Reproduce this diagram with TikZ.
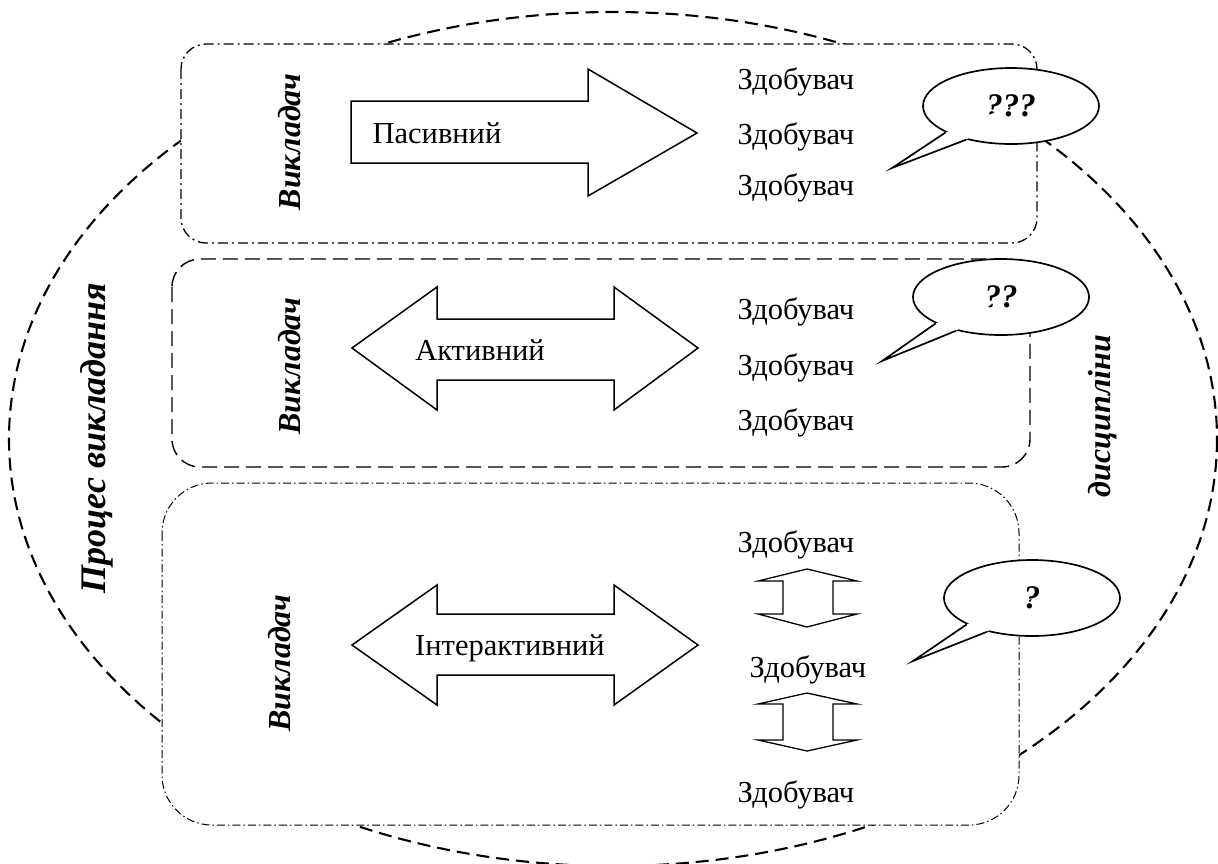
\documentclass[tikz,border=0pt]{standalone}
\usepackage{fontspec}
\setmainfont{Liberation Serif}
\usepackage{tikz}
\usetikzlibrary{shapes.geometric}

\begin{document}
\begin{tikzpicture}[x=1pt,y=1pt,yscale=-1,xscale=1,
  txt/.style={inner sep=0.75pt,font=\fontsize{30.5}{36}\selectfont},
  vtxt/.style={inner sep=0.75pt,rotate=90,font=\fontsize{32}{38}\selectfont\bfseries\itshape},
  bigoval/.style={line width=2.1,dash pattern=on 13pt off 7pt},
  dotbox/.style={draw,fill=white,line width=1.3,dash pattern=on 10pt off 4pt on 2pt off 4pt},
  dashbox/.style={draw,fill=white,line width=1.4,dash pattern=on 15pt off 7pt},
  thinbox/.style={draw,fill=white,line width=1.0,dash pattern=on 8pt off 3pt on 1.5pt off 3pt},
  blockarrow/.style={draw,fill=white,line width=1.5,line join=miter},
  speech/.style={ellipse,draw,fill=white,line width=1.7,minimum width=176,minimum height=76,inner sep=0pt,font=\fontsize{33}{38}\selectfont\bfseries\itshape}]
\useasboundingbox (0,0) rectangle (1218,863);
%Ellipse
\draw [bigoval] (613,439) ellipse [x radius=604, y radius=427];
% Text Node
\node [vtxt,font=\fontsize{36}{42}\selectfont\bfseries\itshape] (proc) at (97,438) {Процес викладання};
% Text Node
\node [vtxt] (disc) at (1103,416) {дисципліни};
%Rounded Rect
\path [dotbox,rounded corners=25] (181,44) rectangle (1037,243);
%Rounded Rect
\path [dashbox,rounded corners=28] (172,259) rectangle (1030,467);
%Rounded Rect
\path [thinbox,rounded corners=50] (162,483) rectangle (1019,825);
% Text Node
\node [vtxt] (vk1) at (290,142) {Викладач};
% Text Node
\node [vtxt] (vk2) at (290,366) {Викладач};
% Text Node
\node [vtxt] (vk3) at (280,663) {Викладач};
%Right Arrow
\draw [blockarrow] (351,101) -- (588,101) -- (588,69) -- (697,133) -- (588,196) -- (588,163) -- (351,163) -- cycle ;
%Left Right Arrow
\draw [blockarrow] (352,348) -- (437,287) -- (437,319) -- (614,319) -- (614,287) -- (698,348) -- (614,410) -- (614,380) -- (437,380) -- (437,410) -- cycle ;
%Left Right Arrow
\draw [blockarrow] (352,645) -- (437,585) -- (437,614) -- (614,614) -- (614,585) -- (698,645) -- (614,705) -- (614,675) -- (437,675) -- (437,705) -- cycle ;
% Text Node
\node [txt] (pas) at (437,133) {Пасивний};
% Text Node
\node [txt] (akt) at (480,350) {Активний};
% Text Node
\node [txt] (inter) at (510,648) {Інтерактивний};
% Text Node
\node [txt] (z11) at (796,82) {Здобувач};
\node [txt] (z12) at (796,137) {Здобувач};
\node [txt] (z13) at (796,188) {Здобувач};
% Text Node
\node [txt] (z21) at (796,312) {Здобувач};
\node [txt] (z22) at (796,368) {Здобувач};
\node [txt] (z23) at (796,423) {Здобувач};
% Text Node
\node [txt] (z31) at (796,545) {Здобувач};
\node [txt] (z32) at (808,670) {Здобувач};
\node [txt] (z33) at (796,795) {Здобувач};
%Up Down Arrow
\draw [blockarrow,line width=1.3] (807,569) -- (758,581) -- (783,581) -- (783,614) -- (758,614) -- (807,627) -- (857,614) -- (833,614) -- (833,581) -- (857,581) -- cycle ;
%Up Down Arrow
\draw [blockarrow,line width=1.3] (807,693) -- (758,704) -- (783,704) -- (783,740) -- (758,740) -- (807,751) -- (857,740) -- (833,740) -- (833,704) -- (857,704) -- cycle ;
%Callouts
\node [speech] (q1) at (1011,106) {???};
\fill [white] (q1.202) -- (892,168) -- (q1.217) -- (q1.center) -- cycle;
\draw [line width=1.7,line join=miter] (q1.202) -- (892,168) -- (q1.217);
\node [speech] (q2) at (1001,297) {??};
\fill [white] (q2.202) -- (882,361) -- (q2.217) -- (q2.center) -- cycle;
\draw [line width=1.7,line join=miter] (q2.202) -- (882,361) -- (q2.217);
\node [speech] (q3) at (1032,598) {?};
\fill [white] (q3.202) -- (913,661) -- (q3.217) -- (q3.center) -- cycle;
\draw [line width=1.7,line join=miter] (q3.202) -- (913,661) -- (q3.217);
\end{tikzpicture}
\end{document}
